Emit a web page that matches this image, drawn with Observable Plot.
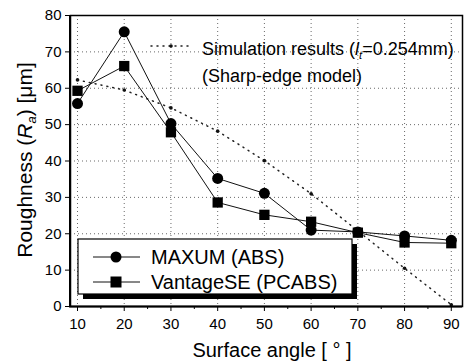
<!DOCTYPE html>
<html>
<head>
<meta charset="utf-8">
<script src="https://cdn.jsdelivr.net/npm/d3@7"></script>
<script src="https://cdn.jsdelivr.net/npm/@observablehq/plot@0.6"></script>
<style>
  html, body { margin: 0; padding: 0; background: #fff; }
  #chart { width: 468px; height: 364px; }
  svg { font-family: Arial, "Liberation Sans", sans-serif; }
</style>
</head>
<body>
<div id="chart"></div>
<script>
const angles = [10, 20, 30, 40, 50, 60, 70, 80, 90];
const maxum = [55.8, 75.5, 50.3, 35.2, 31.1, 21.0, 20.5, 19.4, 18.2];
const vantage = [59.3, 66.1, 47.9, 28.6, 25.2, 23.3, 20.3, 17.6, 17.4];
const simulation = [62.3, 59.5, 54.6, 48.2, 40.1, 31.0, 20.8, 10.5, 0.5];
const xTicks = [10, 20, 30, 40, 50, 60, 70, 80, 90];
const xMinor = [15, 25, 35, 45, 55, 65, 75, 85];
const yTicks = [0, 10, 20, 30, 40, 50, 60, 70, 80];
const seriesNames = ["MAXUM (ABS)", "VantageSE (PCABS)"];

const rowsM = angles.map((a, i) => ({x: a, y: maxum[i]}));
const rowsV = angles.map((a, i) => ({x: a, y: vantage[i]}));
const rowsS = angles.map((a, i) => ({x: a, y: simulation[i]}));

const plot = Plot.plot({
  width: 468,
  height: 364,
  marginLeft: 70,
  marginRight: 6,
  marginTop: 15,
  marginBottom: 58,
  style: {fontFamily: "Arial, 'Liberation Sans', sans-serif", fontSize: "15px", background: "#fff"},
  x: {type: "linear", domain: [8.5, 92.4]},
  y: {type: "linear", domain: [0, 80]},
  marks: [
    Plot.gridX({ticks: xTicks, stroke: "#444", strokeOpacity: 0.8, strokeDasharray: "1,3"}),
    Plot.gridY({ticks: yTicks, stroke: "#444", strokeOpacity: 0.8, strokeDasharray: "1,3"}),
    Plot.line(rowsS, {x: "x", y: "y", stroke: "#222", strokeWidth: 1.5, strokeDasharray: "1,5", strokeLinecap: "round"}),
    Plot.dot(rowsS, {x: "x", y: "y", r: 1.8, fill: "#111", stroke: "none"}),
    Plot.line(rowsM, {x: "x", y: "y", stroke: "#111", strokeWidth: 1}),
    Plot.line(rowsV, {x: "x", y: "y", stroke: "#111", strokeWidth: 1}),
    Plot.dot(rowsM, {x: "x", y: "y", r: 5.5, fill: "#000", stroke: "none"}),
    Plot.dot(rowsV, {x: "x", y: "y", symbol: "square", r: 5.8, fill: "#000", stroke: "none"}),
    Plot.axisX({ticks: xTicks, tickSize: 5, tickPadding: 7, fontSize: 15, label: null, stroke: "#000"}),
    Plot.axisX({ticks: xMinor, tickSize: 3, tickFormat: () => "", label: null, stroke: "#000"}),
    Plot.axisY({ticks: yTicks, tickSize: 5, tickPadding: 4, fontSize: 15, label: null, stroke: "#000"}),
    Plot.frame({stroke: "#000", strokeWidth: 1.5})
  ]
});

document.getElementById("chart").appendChild(plot);

const svg = d3.select(plot);

// thicker left and bottom axis lines
svg.append("line").attr("x1", 70).attr("x2", 70).attr("y1", 15).attr("y2", 307).attr("stroke", "#000").attr("stroke-width", 2);
svg.append("line").attr("x1", 69).attr("x2", 462).attr("y1", 306.5).attr("y2", 306.5).attr("stroke", "#000").attr("stroke-width", 2);

// Simulation legend
const sl = svg.append("g").attr("text-anchor", "start");
sl.append("line").attr("x1", 151).attr("x2", 192).attr("y1", 46).attr("y2", 46)
  .attr("stroke", "#222").attr("stroke-width", 1.5).attr("stroke-dasharray", "1,5").attr("stroke-linecap", "round");
sl.append("circle").attr("cx", 171).attr("cy", 46).attr("r", 1.8).attr("fill", "#111");
const t1 = sl.append("text").attr("x", 202).attr("y", 55).attr("font-size", 18).attr("fill", "#000");
t1.append("tspan").text("Simulation results (");
t1.append("tspan").attr("font-style", "italic").text("l");
t1.append("tspan").attr("font-style", "italic").attr("font-size", 11).attr("dy", 4).text("t");
t1.append("tspan").attr("dy", -4).text("=0.254mm)");
sl.append("text").attr("x", 202).attr("y", 82).attr("font-size", 18).attr("fill", "#000").text("(Sharp-edge model)");

// Boxed legend with shadow
const lg = svg.append("g").attr("text-anchor", "start");
lg.append("rect").attr("x", 83).attr("y", 244).attr("width", 274).attr("height", 55).attr("fill", "#000");
lg.append("rect").attr("x", 78).attr("y", 239).attr("width", 274).attr("height", 55).attr("fill", "#fff").attr("stroke", "#000").attr("stroke-width", 1.2);
lg.append("line").attr("x1", 93).attr("x2", 140).attr("y1", 257).attr("y2", 257).attr("stroke", "#111");
lg.append("circle").attr("cx", 116).attr("cy", 257).attr("r", 5.5).attr("fill", "#000");
lg.append("line").attr("x1", 93).attr("x2", 140).attr("y1", 282).attr("y2", 282).attr("stroke", "#111");
lg.append("rect").attr("x", 110.5).attr("y", 276.5).attr("width", 11).attr("height", 11).attr("fill", "#000");
lg.append("text").attr("x", 151).attr("y", 264).attr("font-size", 20).attr("fill", "#000").text(seriesNames[0]);
lg.append("text").attr("x", 151).attr("y", 289).attr("font-size", 20).attr("fill", "#000").text(seriesNames[1]);

// Axis titles
svg.append("text").attr("x", 272).attr("y", 357).attr("text-anchor", "middle").attr("font-size", 20).attr("fill", "#000")
  .text("Surface angle [ ° ]");
const yl = svg.append("text").attr("transform", "translate(32,160) rotate(-90)").attr("text-anchor", "middle").attr("font-size", 21).attr("fill", "#000");
yl.append("tspan").text("Roughness (");
yl.append("tspan").attr("font-style", "italic").text("R");
yl.append("tspan").attr("font-style", "italic").attr("font-size", 13).attr("dy", 4).text("a");
yl.append("tspan").attr("dy", -4).text(") [μm]");
</script>
</body>
</html>
